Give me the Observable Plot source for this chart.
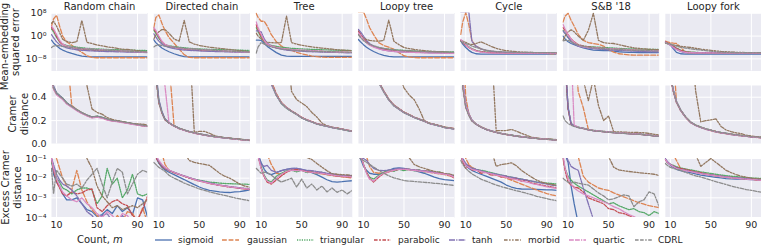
<!DOCTYPE html>
<html><head><meta charset="utf-8">
<script src="https://cdn.jsdelivr.net/npm/d3@7"></script>
<script src="https://cdn.jsdelivr.net/npm/@observablehq/plot@0.6"></script>
<style>
body{margin:0;background:#fff;}
#wrap{position:relative;width:761px;height:248px;overflow:hidden;font-family:"DejaVu Sans",sans-serif;color:#262626;}
.row{position:absolute;left:0;}
g[aria-label^="fx-axis"]{font-size:10px;}
.leg{position:absolute;top:234px;font-size:9px;line-height:12px;white-space:nowrap;}
.xl{position:absolute;top:233px;font-size:10px;line-height:13px;white-space:nowrap;}
.sw{position:absolute;top:237px;}
</style></head><body><div id="wrap"></div>
<script>
const SERIES = ["sigmoid","gaussian","triangular","parabolic","tanh","morbid","quartic","CDRL"];
const COLORS = ["#4C72B0","#DD8452","#55A868","#C44E52","#8172B3","#937860","#DA8BC3","#8C8C8C"];
const DASHES = ["none","4.8,1.8","1.2,1.2","3.6,1.5,1.8,1.5","6,1.2,1.2,1.2","3.6,1.5,1.5,1.5,1.5,1.5","4.8,1.2,4.8,1.2,1.2,1.2","3.6,1.5,3.6,1.5,1.5,1.5"];
const PANELS = ["Random chain","Directed chain","Tree","Loopy tree","Cycle","S&B '18","Loopy fork"];
const M = [5,7,10,13,16,20,25,30,35,40,45,50,55,60,65,70,75,80,85,90,95,100];
const X_TICKS = [10,50,90];
const MSE_TICKS = [1e8,1,1e-8];
const CRAMER_TICKS = [0,0.2,0.4];
const EXCESS_TICKS = [1e-1,1e-2,1e-3,1e-4];

// Row 1: mean-embedding squared error, log10 values (series order as SERIES)
const mseRandomChain = [
[-1.4,-2.4,-3.4,-4.3,-4.9,-5.5,-6.1,-6.6,-7.0,-7.2,-7.3,-7.3,-7.3,-7.3,-7.3,-7.3,-7.3,-7.3,-7.3,-7.3,-7.3,-7.3],
[3.5,6.0,7.3,3.5,0.0,-2.0,-3.2,-4.5,-5.7,-6.9,-7.5,-7.6,-7.6,-7.6,-7.6,-7.6,-7.6,-7.6,-7.6,-7.6,-7.6,-7.6],
[2.5,1.5,-0.5,-2.0,-2.8,-3.3,-3.6,-3.9,-4.1,-4.3,-4.4,-4.5,-4.6,-4.7,-4.75,-4.8,-4.85,-4.9,-4.95,-5.0,-5.0,-5.1],
[3.0,2.0,0.0,-2.0,-3.0,-3.6,-4.0,-4.3,-4.6,-4.8,-4.9,-5.0,-5.1,-5.15,-5.2,-5.25,-5.3,-5.4,-5.45,-5.5,-5.55,-5.6],
[0.5,-0.5,-2.0,-3.0,-3.6,-4.1,-4.5,-4.8,-5.0,-5.1,-5.2,-5.3,-5.35,-5.4,-5.45,-5.5,-5.55,-5.6,-5.65,-5.7,-5.75,-5.8],
[4.5,5.2,3.5,1.2,-1.1,-1.9,-2.3,-2.0,5.5,-2.2,-2.6,-3.1,-3.4,-3.8,-4.0,-4.3,-4.6,-4.7,-4.9,-5.1,-5.4,-5.6],
[3.5,2.5,0.5,-1.5,-2.8,-3.5,-3.9,-4.2,-4.4,-4.5,-4.6,-4.7,-4.8,-4.9,-5.0,-5.1,-5.2,-5.3,-5.4,-5.5,-5.6,-5.7],
[-4.0,-3.5,-3.3,-3.4,-3.6,-3.8,-4.0,-4.2,-4.4,-4.6,-4.7,-4.8,-4.9,-5.0,-5.05,-5.1,-5.2,-5.3,-5.4,-5.45,-5.5,-5.6]];
const mseDirectedChain = [
[-1.3,-2.3,-3.3,-4.2,-4.8,-5.5,-6.2,-6.8,-7.2,-7.3,-7.3,-7.3,-7.3,-7.3,-7.3,-7.3,-7.3,-7.3,-7.3,-7.3,-7.3,-7.3],
[3.0,6.5,7.4,4.5,2.0,-0.5,-2.5,-4.5,-6.5,-7.5,-7.6,-7.6,-7.6,-7.6,-7.6,-7.6,-7.6,-7.6,-7.6,-7.6,-7.6,-7.6],
[2.0,1.0,-0.8,-2.2,-3.0,-3.4,-3.7,-3.9,-4.1,-4.3,-4.4,-4.5,-4.6,-4.65,-4.7,-4.75,-4.8,-4.85,-4.9,-4.95,-5.0,-5.0],
[2.5,1.5,-0.3,-2.0,-3.0,-3.6,-4.0,-4.3,-4.6,-4.8,-4.9,-5.0,-5.1,-5.15,-5.2,-5.25,-5.3,-5.4,-5.45,-5.5,-5.55,-5.6],
[0.8,-0.3,-1.8,-2.8,-3.5,-4.0,-4.4,-4.7,-4.9,-5.0,-5.1,-5.2,-5.3,-5.35,-5.4,-5.45,-5.5,-5.55,-5.6,-5.65,-5.7,-5.75],
[-1.0,0.5,1.5,2.3,2.3,1.0,-1.0,-1.8,5.5,-2.0,-2.8,-3.3,-3.6,-3.9,-4.1,-4.3,-4.5,-4.7,-4.9,-5.1,-5.3,-5.5],
[3.0,2.0,0.0,-1.8,-2.9,-3.5,-3.9,-4.2,-4.4,-4.5,-4.6,-4.7,-4.8,-4.9,-5.0,-5.1,-5.2,-5.3,-5.4,-5.5,-5.6,-5.7],
[-3.8,-3.3,-3.1,-3.3,-3.5,-3.7,-3.9,-4.1,-4.3,-4.5,-4.6,-4.7,-4.8,-4.9,-5.0,-5.1,-5.2,-5.3,-5.35,-5.4,-5.5,-5.6]];
const mseTree = [
[-1.45,-1.45,-1.5,-2.6,-3.6,-4.6,-5.8,-6.7,-7.0,-7.1,-7.1,-7.1,-7.1,-7.1,-7.1,-7.1,-7.1,-7.1,-7.1,-7.1,-7.1,-7.1],
[8.0,6.5,5.2,5.2,3.5,0.5,-2.0,-3.5,-4.3,-5.0,-5.7,-6.2,-6.6,-7.0,-7.2,-7.4,-7.5,-7.5,-7.5,-7.5,-7.5,-7.5],
[3.0,1.5,-0.5,-2.0,-2.8,-3.3,-3.6,-3.9,-4.1,-4.3,-4.4,-4.5,-4.6,-4.65,-4.7,-4.8,-4.85,-4.9,-4.95,-5.0,-5.05,-5.1],
[4.0,2.0,0.0,-1.8,-2.9,-3.5,-4.0,-4.4,-4.7,-4.9,-5.0,-5.1,-5.2,-5.3,-5.35,-5.4,-5.5,-5.55,-5.6,-5.65,-5.7,-5.75],
[1.8,1.8,1.5,-1.0,-2.5,-3.5,-4.2,-4.6,-4.9,-5.1,-5.2,-5.3,-5.4,-5.5,-5.55,-5.6,-5.65,-5.7,-5.75,-5.8,-5.85,-5.9],
[1.0,0.0,-1.0,-1.8,-2.2,-2.3,-2.4,-2.2,7.0,-2.3,-2.8,-3.2,-3.5,-3.8,-4.0,-4.2,-4.4,-4.6,-4.8,-4.9,-5.0,-5.1],
[5.0,3.0,0.5,-1.5,-2.8,-3.5,-4.0,-4.3,-4.5,-4.7,-4.8,-4.9,-5.0,-5.1,-5.2,-5.3,-5.4,-5.5,-5.6,-5.65,-5.7,-5.75],
[-6.0,-3.8,-2.3,-2.8,-3.3,-3.8,-4.2,-4.5,-4.7,-4.9,-5.0,-5.1,-5.2,-5.3,-5.35,-5.4,-5.45,-5.5,-5.55,-5.6,-5.65,-5.7]];
const mseLoopyTree = [
[-1.2,-2.0,-3.0,-3.9,-4.6,-5.4,-6.2,-6.8,-7.1,-7.3,-7.3,-7.3,-7.3,-7.3,-7.3,-7.3,-7.3,-7.3,-7.3,-7.3,-7.3,-7.3],
[8.5,8.5,8.5,6.0,3.0,0.5,-2.3,-3.3,-3.9,-4.6,-5.8,-6.9,-7.3,-7.5,-7.6,-7.6,-7.6,-7.6,-7.6,-7.6,-7.6,-7.6],
[1.5,0.5,-1.0,-2.2,-3.0,-3.6,-4.1,-4.4,-4.6,-4.8,-4.9,-5.0,-5.1,-5.2,-5.3,-5.35,-5.4,-5.45,-5.5,-5.5,-5.55,-5.6],
[1.8,0.8,-0.8,-2.0,-2.9,-3.6,-4.2,-4.6,-4.9,-5.1,-5.2,-5.3,-5.4,-5.5,-5.55,-5.6,-5.65,-5.7,-5.75,-5.8,-5.8,-5.85],
[2.3,1.5,0.0,-1.5,-2.6,-3.5,-4.3,-4.9,-5.2,-5.4,-5.5,-5.6,-5.65,-5.7,-5.75,-5.8,-5.85,-5.9,-5.9,-5.95,-6.0,-6.0],
[0.6,0.0,-0.7,-1.2,-1.5,-1.7,-1.8,-1.5,5.6,-1.8,-3.0,-4.0,-4.4,-4.7,-4.9,-5.1,-5.3,-5.4,-5.5,-5.6,-5.7,-5.8],
[1.2,0.3,-1.2,-2.4,-3.2,-3.9,-4.5,-4.9,-5.2,-5.4,-5.5,-5.6,-5.7,-5.75,-5.8,-5.85,-5.9,-5.95,-6.0,-6.0,-6.05,-6.1],
[0.5,-0.5,-1.6,-2.3,-2.9,-3.4,-3.9,-4.3,-4.6,-4.8,-5.0,-5.1,-5.2,-5.3,-5.4,-5.45,-5.5,-5.55,-5.6,-5.65,-5.7,-5.75]];
const mseCycle = [
[-1.7,-2.8,-4.0,-5.0,-5.7,-6.2,-6.3,-6.3,-6.3,-6.3,-6.3,-6.3,-6.3,-6.3,-6.3,-6.3,-6.3,-6.3,-6.3,-6.3,-6.3,-6.3],
[0.6,5.0,8.2,4.0,-1.5,-3.5,-4.5,-5.0,-5.4,-5.6,-5.8,-5.9,-6.0,-6.0,-6.0,-6.0,-6.1,-6.1,-6.1,-6.1,-6.2,-6.2],
[-1.6,-2.2,-3.0,-3.8,-4.4,-5.0,-5.4,-5.6,-5.7,-5.75,-5.8,-5.8,-5.8,-5.8,-5.8,-5.8,-5.8,-5.8,-5.8,-5.8,-5.8,-5.8],
[-1.5,-2.3,-3.2,-4.0,-4.6,-5.1,-5.5,-5.7,-5.8,-5.9,-5.9,-5.95,-6.0,-6.0,-6.0,-6.0,-6.0,-6.0,-6.0,-6.0,-6.0,-6.0],
[8.5,8.5,8.5,8.5,-1.8,-3.5,-4.5,-5.0,-5.3,-5.5,-5.6,-5.7,-5.75,-5.8,-5.8,-5.85,-5.85,-5.9,-5.9,-5.9,-5.9,-5.9],
[-1.5,-1.8,-2.2,-2.8,-3.0,-2.6,-2.0,-2.8,-3.6,-4.3,-4.8,-5.1,-5.3,-5.5,-5.6,-5.7,-5.75,-5.8,-5.8,-5.85,-5.85,-5.9],
[-1.2,-2.0,-3.0,-3.9,-4.6,-5.2,-5.6,-5.8,-5.9,-6.0,-6.0,-6.0,-6.0,-6.0,-6.0,-6.0,-6.0,-6.0,-6.0,-6.0,-6.0,-6.0],
[-1.8,-2.2,-2.6,-3.0,-3.5,-4.0,-4.5,-4.9,-5.2,-5.4,-5.5,-5.6,-5.65,-5.7,-5.7,-5.75,-5.75,-5.8,-5.8,-5.8,-5.8,-5.8]];
const mseSB18 = [
[0.0,-1.0,-2.0,-2.6,-3.0,-3.5,-4.1,-4.6,-4.9,-5.0,-5.1,-5.1,-5.3,-5.5,-5.6,-5.7,-5.75,-5.8,-5.8,-5.8,-5.8,-5.8],
[4.9,7.0,8.0,5.5,3.5,0.6,-1.5,-2.3,-2.6,-2.9,-3.5,-4.8,-5.6,-6.2,-6.4,-6.6,-6.7,-6.7,-6.7,-6.7,-6.7,-6.7],
[2.0,1.0,-0.5,-1.8,-2.6,-3.2,-3.5,-3.7,-3.8,-3.9,-4.0,-4.1,-4.2,-4.3,-4.4,-4.5,-4.5,-4.6,-4.6,-4.7,-4.7,-4.7],
[3.0,2.0,0.5,-1.0,-2.0,-3.0,-3.5,-3.8,-4.0,-4.2,-4.3,-4.4,-4.5,-4.6,-4.7,-4.8,-4.9,-5.0,-5.0,-5.1,-5.1,-5.2],
[1.8,1.0,-0.5,-1.8,-2.8,-3.5,-3.9,-4.2,-4.4,-4.6,-4.7,-4.8,-4.9,-5.0,-5.1,-5.2,-5.3,-5.4,-5.4,-5.5,-5.5,-5.6],
[-1.5,0.0,1.5,2.2,1.5,0.0,-1.5,2.0,8.0,-1.5,-2.3,-2.5,-2.6,-3.0,-3.4,-3.8,-4.1,-4.3,-4.5,-4.6,-4.7,-4.8],
[4.1,2.5,0.5,-1.0,-2.2,-3.3,-3.8,-4.0,-4.1,-4.2,-4.3,-4.4,-4.5,-4.6,-4.7,-4.8,-4.9,-5.0,-5.0,-5.1,-5.1,-5.1],
[-1.7,-1.5,-1.5,-2.0,-2.6,-3.2,-3.6,-3.9,-4.1,-4.3,-4.4,-4.5,-4.6,-4.7,-4.8,-4.9,-5.0,-5.0,-5.1,-5.1,-5.2,-5.2]];
const mseLoopyFork = [
[-2.2,-2.5,-3.2,-4.5,-5.7,-6.2,-6.3,-6.3,-6.3,-6.3,-6.3,-6.3,-6.3,-6.3,-6.3,-6.3,-6.3,-6.3,-6.3,-6.3,-6.3,-6.3],
[-1.8,-2.0,-2.3,-2.5,-2.6,-3.8,-5.8,-5.9,-6.0,-6.0,-6.0,-6.0,-6.0,-6.0,-6.0,-6.0,-6.0,-6.0,-6.0,-6.0,-6.0,-6.0],
[-2.3,-2.6,-3.0,-3.6,-4.2,-4.9,-5.4,-5.6,-5.7,-5.8,-5.8,-5.8,-5.8,-5.8,-5.8,-5.8,-5.8,-5.8,-5.8,-5.8,-5.8,-5.8],
[-2.0,-2.4,-2.9,-3.6,-4.3,-5.0,-5.5,-5.7,-5.8,-5.8,-5.8,-5.8,-5.8,-5.8,-5.8,-5.8,-5.8,-5.8,-5.8,-5.8,-5.8,-5.8],
[-2.1,-2.5,-3.1,-3.9,-4.7,-5.4,-5.8,-5.9,-5.9,-5.9,-5.9,-5.9,-5.9,-5.9,-5.9,-5.9,-5.9,-5.9,-5.9,-5.9,-5.9,-5.9],
[-2.5,-2.6,-2.8,-3.1,-3.3,-3.6,-3.8,-4.0,-4.3,-4.6,-4.8,-5.0,-5.2,-5.4,-5.5,-5.6,-5.7,-5.7,-5.8,-5.8,-5.8,-5.8],
[-2.2,-2.6,-3.2,-4.0,-4.7,-5.3,-5.7,-5.8,-5.9,-5.9,-5.9,-5.9,-5.9,-5.9,-5.9,-5.9,-5.9,-5.9,-5.9,-5.9,-5.9,-5.9],
[-2.4,-2.6,-2.9,-3.2,-3.5,-3.9,-4.2,-4.5,-4.7,-4.9,-5.1,-5.3,-5.5,-5.6,-5.7,-5.7,-5.8,-5.8,-5.8,-5.8,-5.8,-5.8]];

// Row 2: Cramer distance
const cramerRandomChain = [
[0.62,0.48,0.43,0.41,0.39,0.35,0.32,0.29,0.265,0.245,0.228,0.235,0.225,0.21,0.2,0.195,0.188,0.18,0.172,0.165,0.158,0.152],
[0.9,0.9,0.9,0.9,0.9,0.8,0.33,0.295,0.268,0.247,0.23,0.236,0.226,0.211,0.201,0.196,0.189,0.181,0.173,0.166,0.159,0.153],
[0.63,0.49,0.44,0.415,0.393,0.353,0.323,0.293,0.268,0.248,0.231,0.238,0.228,0.213,0.203,0.198,0.19,0.183,0.175,0.168,0.161,0.155],
[0.6,0.47,0.425,0.405,0.386,0.347,0.318,0.288,0.263,0.243,0.226,0.233,0.223,0.208,0.198,0.193,0.186,0.178,0.17,0.163,0.156,0.15],
[0.64,0.5,0.435,0.412,0.391,0.351,0.321,0.291,0.266,0.246,0.229,0.236,0.226,0.211,0.201,0.196,0.189,0.181,0.173,0.166,0.159,0.153],
[0.9,0.9,0.9,0.9,0.9,0.9,0.9,0.9,0.9,0.5,0.3,0.27,0.255,0.225,0.21,0.2,0.192,0.182,0.176,0.172,0.17,0.16],
[0.61,0.47,0.42,0.4,0.38,0.342,0.313,0.284,0.26,0.24,0.223,0.23,0.22,0.205,0.195,0.19,0.183,0.176,0.168,0.161,0.155,0.149],
[0.6,0.48,0.43,0.41,0.39,0.35,0.32,0.292,0.267,0.247,0.23,0.237,0.227,0.212,0.202,0.197,0.19,0.182,0.174,0.167,0.16,0.154]];
const cramerDirectedChain = [
[0.8,0.6,0.36,0.27,0.21,0.18,0.155,0.133,0.118,0.105,0.095,0.085,0.077,0.07,0.063,0.058,0.053,0.048,0.043,0.039,0.035,0.031],
[0.9,0.9,0.9,0.9,0.9,0.7,0.157,0.135,0.12,0.106,0.096,0.086,0.078,0.071,0.064,0.059,0.054,0.049,0.044,0.04,0.036,0.032],
[0.82,0.62,0.37,0.275,0.215,0.183,0.157,0.135,0.12,0.107,0.097,0.087,0.079,0.071,0.064,0.059,0.054,0.049,0.044,0.04,0.036,0.032],
[0.78,0.58,0.35,0.265,0.207,0.178,0.153,0.132,0.117,0.104,0.094,0.084,0.076,0.069,0.062,0.057,0.052,0.047,0.042,0.038,0.034,0.03],
[0.85,0.65,0.38,0.28,0.215,0.182,0.156,0.134,0.119,0.106,0.096,0.086,0.078,0.071,0.064,0.058,0.053,0.048,0.043,0.039,0.035,0.031],
[0.9,0.9,0.9,0.9,0.9,0.9,0.9,0.9,0.9,0.9,0.1,0.108,0.108,0.092,0.072,0.06,0.055,0.05,0.045,0.041,0.037,0.033],
[0.9,0.9,0.9,0.9,0.5,0.18,0.154,0.132,0.117,0.104,0.094,0.084,0.076,0.069,0.062,0.057,0.052,0.047,0.042,0.038,0.034,0.03],
[0.79,0.59,0.355,0.268,0.21,0.18,0.155,0.134,0.119,0.106,0.096,0.086,0.078,0.07,0.064,0.058,0.053,0.048,0.043,0.039,0.035,0.031]];
const cramerTree = [
[0.9,0.85,0.75,0.68,0.62,0.52,0.42,0.35,0.31,0.28,0.255,0.225,0.205,0.19,0.172,0.162,0.152,0.142,0.134,0.126,0.117,0.109],
[0.9,0.9,0.8,0.72,0.65,0.54,0.43,0.355,0.313,0.282,0.257,0.227,0.207,0.192,0.174,0.163,0.153,0.143,0.135,0.127,0.118,0.11],
[0.9,0.85,0.75,0.68,0.62,0.52,0.415,0.345,0.305,0.277,0.252,0.222,0.203,0.188,0.17,0.16,0.15,0.14,0.132,0.124,0.115,0.107],
[0.9,0.86,0.76,0.69,0.63,0.53,0.425,0.352,0.312,0.282,0.257,0.227,0.207,0.192,0.174,0.164,0.154,0.144,0.136,0.128,0.119,0.111],
[0.9,0.84,0.74,0.67,0.61,0.51,0.415,0.348,0.308,0.279,0.254,0.224,0.204,0.189,0.171,0.161,0.151,0.141,0.133,0.125,0.116,0.108],
[0.9,0.9,0.9,0.9,0.9,0.9,0.9,0.9,0.9,0.45,0.38,0.35,0.32,0.27,0.23,0.18,0.155,0.144,0.136,0.128,0.119,0.111],
[0.9,0.85,0.75,0.68,0.62,0.52,0.42,0.35,0.31,0.28,0.255,0.226,0.206,0.19,0.173,0.162,0.152,0.142,0.134,0.126,0.118,0.11],
[0.9,0.85,0.75,0.68,0.62,0.52,0.418,0.349,0.309,0.28,0.255,0.225,0.205,0.19,0.172,0.162,0.152,0.142,0.134,0.126,0.117,0.109]];
const cramerLoopyTree = [
[0.95,0.9,0.85,0.78,0.72,0.64,0.53,0.45,0.38,0.33,0.3,0.27,0.25,0.228,0.212,0.196,0.176,0.166,0.155,0.142,0.135,0.129],
[0.95,0.9,0.85,0.78,0.72,0.64,0.535,0.455,0.385,0.334,0.303,0.273,0.252,0.23,0.214,0.198,0.178,0.168,0.157,0.144,0.137,0.131],
[0.95,0.9,0.85,0.78,0.72,0.64,0.525,0.445,0.375,0.326,0.297,0.267,0.247,0.226,0.21,0.194,0.175,0.164,0.153,0.141,0.134,0.127],
[0.95,0.9,0.85,0.78,0.72,0.64,0.53,0.452,0.382,0.332,0.302,0.272,0.252,0.23,0.213,0.197,0.177,0.167,0.156,0.143,0.136,0.13],
[0.95,0.9,0.85,0.78,0.72,0.64,0.528,0.448,0.378,0.328,0.298,0.268,0.248,0.227,0.211,0.195,0.175,0.165,0.154,0.141,0.134,0.128],
[0.95,0.9,0.9,0.9,0.9,0.9,0.9,0.9,0.9,0.9,0.6,0.48,0.42,0.38,0.3,0.2,0.178,0.168,0.157,0.144,0.137,0.131],
[0.95,0.9,0.85,0.78,0.72,0.64,0.53,0.45,0.38,0.33,0.3,0.27,0.25,0.228,0.212,0.196,0.176,0.166,0.155,0.142,0.135,0.129],
[0.95,0.9,0.85,0.78,0.72,0.64,0.532,0.451,0.381,0.331,0.301,0.271,0.251,0.229,0.213,0.197,0.177,0.167,0.156,0.143,0.136,0.13]];
const cramerCycle = [
[0.75,0.5,0.32,0.25,0.2,0.17,0.145,0.125,0.112,0.1,0.09,0.082,0.075,0.068,0.062,0.057,0.052,0.048,0.044,0.041,0.038,0.035],
[0.9,0.9,0.4,0.26,0.205,0.172,0.147,0.127,0.113,0.101,0.091,0.083,0.076,0.069,0.063,0.058,0.053,0.049,0.045,0.042,0.039,0.036],
[0.76,0.51,0.33,0.255,0.203,0.172,0.146,0.126,0.113,0.101,0.091,0.083,0.076,0.069,0.063,0.058,0.053,0.049,0.045,0.042,0.039,0.036],
[0.74,0.49,0.315,0.248,0.198,0.169,0.144,0.124,0.111,0.099,0.089,0.081,0.074,0.067,0.061,0.056,0.051,0.047,0.043,0.04,0.037,0.034],
[0.8,0.55,0.34,0.26,0.205,0.171,0.145,0.125,0.112,0.1,0.09,0.082,0.075,0.068,0.062,0.057,0.052,0.048,0.044,0.041,0.038,0.035],
[0.9,0.9,0.9,0.9,0.9,0.9,0.9,0.9,0.9,0.115,0.115,0.115,0.125,0.11,0.09,0.075,0.058,0.05,0.046,0.043,0.04,0.037],
[0.78,0.52,0.33,0.252,0.2,0.17,0.145,0.125,0.112,0.1,0.09,0.082,0.075,0.068,0.062,0.057,0.052,0.048,0.044,0.041,0.038,0.035],
[0.73,0.49,0.31,0.245,0.197,0.168,0.144,0.124,0.111,0.099,0.089,0.081,0.074,0.067,0.061,0.056,0.051,0.047,0.043,0.04,0.037,0.034]];
const cramerSB18 = [
[0.9,0.7,0.3,0.17,0.155,0.143,0.133,0.122,0.115,0.11,0.106,0.101,0.098,0.095,0.092,0.089,0.087,0.084,0.08,0.075,0.07,0.065],
[0.9,0.9,0.9,0.9,0.9,0.45,0.31,0.125,0.117,0.111,0.107,0.102,0.099,0.096,0.093,0.09,0.088,0.085,0.081,0.076,0.071,0.066],
[0.9,0.7,0.31,0.175,0.158,0.145,0.135,0.124,0.117,0.112,0.108,0.103,0.1,0.097,0.094,0.091,0.089,0.086,0.082,0.077,0.072,0.067],
[0.9,0.7,0.3,0.168,0.153,0.142,0.132,0.121,0.114,0.109,0.105,0.1,0.097,0.094,0.091,0.088,0.086,0.083,0.079,0.074,0.069,0.064],
[0.9,0.75,0.32,0.172,0.155,0.143,0.133,0.122,0.115,0.11,0.106,0.101,0.098,0.095,0.092,0.089,0.087,0.084,0.08,0.075,0.07,0.065],
[0.9,0.9,0.9,0.9,0.9,0.9,0.55,0.37,0.56,0.33,0.2,0.24,0.105,0.103,0.102,0.1,0.1,0.098,0.096,0.09,0.083,0.078],
[0.9,0.9,0.9,0.8,0.16,0.144,0.134,0.123,0.116,0.111,0.107,0.102,0.099,0.096,0.093,0.09,0.088,0.085,0.081,0.076,0.071,0.066],
[0.24,0.2,0.175,0.16,0.15,0.141,0.132,0.121,0.114,0.109,0.105,0.1,0.097,0.094,0.091,0.088,0.086,0.083,0.079,0.074,0.069,0.064]];
const cramerLoopyFork = [
[0.9,0.75,0.58,0.45,0.36,0.29,0.23,0.185,0.16,0.143,0.128,0.117,0.105,0.097,0.09,0.083,0.077,0.072,0.067,0.062,0.058,0.055],
[0.9,0.9,0.9,0.75,0.36,0.292,0.232,0.187,0.162,0.145,0.13,0.119,0.107,0.099,0.092,0.085,0.079,0.074,0.069,0.064,0.06,0.057],
[0.9,0.76,0.59,0.455,0.365,0.293,0.232,0.187,0.162,0.145,0.13,0.118,0.106,0.098,0.091,0.084,0.078,0.073,0.068,0.063,0.059,0.056],
[0.9,0.74,0.57,0.445,0.355,0.287,0.228,0.183,0.158,0.141,0.126,0.115,0.103,0.095,0.088,0.081,0.075,0.07,0.065,0.06,0.056,0.053],
[0.9,0.78,0.6,0.46,0.365,0.292,0.231,0.186,0.16,0.143,0.128,0.117,0.105,0.097,0.09,0.083,0.077,0.072,0.067,0.062,0.058,0.055],
[0.9,0.9,0.9,0.9,0.9,0.9,0.9,0.9,0.45,0.19,0.2,0.207,0.214,0.15,0.12,0.105,0.095,0.088,0.075,0.068,0.062,0.058],
[0.9,0.75,0.58,0.45,0.36,0.29,0.229,0.184,0.159,0.142,0.127,0.116,0.104,0.096,0.089,0.082,0.076,0.071,0.066,0.061,0.057,0.054],
[0.9,0.75,0.58,0.45,0.36,0.291,0.231,0.186,0.161,0.144,0.129,0.118,0.106,0.098,0.091,0.084,0.078,0.073,0.068,0.063,0.059,0.056]];

// Row 3: excess Cramer distance, log10 values
const excessRandomChain = [
[-1.0,-1.8,-2.2,-2.4,-2.8,-3.1,-3.1,-3.0,-3.3,-3.6,-3.7,-3.95,-3.85,-3.6,-3.8,-3.4,-3.7,-3.5,-3.85,-3.0,-3.1,-4.0],
[-0.8,-0.9,-1.0,-1.5,-2.0,-2.4,-2.6,-1.6,-2.6,-3.2,-3.6,-3.9,-4.2,-4.1,-4.3,-3.9,-4.2,-3.7,-3.8,-4.2,-3.5,-4.3],
[-1.2,-1.5,-2.0,-2.2,-2.5,-2.6,-2.8,-2.6,-2.5,-2.5,-2.6,-3.3,-2.9,-1.5,-2.3,-2.0,-3.0,-2.6,-1.8,-2.8,-2.9,-2.8],
[-1.0,-1.6,-2.2,-2.5,-2.8,-2.9,-2.7,-2.8,-2.75,-2.6,-2.55,-3.5,-3.7,-3.4,-3.2,-3.1,-3.3,-3.4,-3.9,-4.1,-3.6,-2.9],
[-1.0,-1.3,-1.8,-2.1,-2.3,-2.4,-2.6,-2.9,-3.3,-3.7,-3.9,-4.2,-3.9,-3.8,-4.2,-4.3,-3.9,-4.2,-4.3,-4.0,-4.3,-4.1],
[-0.5,-0.5,-0.5,-0.5,-0.5,-0.5,-0.5,-0.5,-0.5,-1.0,-1.5,-2.4,-2.9,-3.2,-3.5,-3.4,-3.6,-3.5,-3.4,-3.5,-3.3,-3.1],
[-1.0,-1.5,-2.0,-2.4,-2.7,-2.9,-3.1,-3.2,-3.0,-3.3,-3.5,-3.8,-4.0,-3.7,-3.9,-4.2,-3.8,-3.9,-4.3,-4.1,-4.2,-4.3],
[-1.5,-2.8,-1.6,-1.8,-2.0,-2.3,-2.4,-2.3,-2.5,-2.1,-1.8,-1.5,-2.3,-3.0,-2.2,-1.5,-1.7,-2.8,-2.3,-1.8,-1.6,-1.7]];
const excessDirectedChain = [
[-0.6,-0.9,-1.25,-1.45,-1.58,-1.7,-1.82,-1.95,-2.07,-2.2,-2.33,-2.45,-2.55,-2.62,-2.66,-2.7,-2.72,-2.73,-2.7,-2.68,-2.64,-2.6],
[-0.5,-0.5,-0.5,-0.7,-1.3,-1.6,-1.72,-1.8,-1.9,-1.98,-2.06,-2.13,-2.2,-2.26,-2.31,-2.36,-2.4,-2.44,-2.47,-2.5,-2.53,-2.58],
[-0.6,-0.9,-1.2,-1.4,-1.5,-1.6,-1.7,-1.8,-1.9,-1.98,-2.05,-2.1,-2.15,-2.2,-2.22,-2.25,-2.27,-2.28,-2.29,-2.3,-2.3,-2.32],
[-0.6,-0.95,-1.2,-1.4,-1.52,-1.62,-1.72,-1.82,-1.9,-2.0,-2.08,-2.15,-2.2,-2.27,-2.32,-2.37,-2.41,-2.45,-2.48,-2.52,-2.55,-2.58],
[-0.5,-0.85,-1.15,-1.35,-1.48,-1.6,-1.7,-1.8,-1.88,-1.97,-2.05,-2.12,-2.18,-2.24,-2.3,-2.35,-2.39,-2.43,-2.46,-2.49,-2.52,-2.55],
[-0.5,-0.5,-0.5,-0.5,-0.5,-0.5,-0.5,-0.5,-0.7,-1.1,-1.2,-1.25,-1.3,-1.35,-1.55,-1.75,-1.9,-2.0,-2.15,-2.3,-2.4,-2.47],
[-0.5,-0.8,-1.1,-1.3,-1.45,-1.58,-1.7,-1.8,-1.9,-1.98,-2.06,-2.14,-2.2,-2.26,-2.32,-2.36,-2.4,-2.44,-2.47,-2.5,-2.53,-2.56],
[-1.2,-1.3,-1.45,-1.55,-1.65,-1.85,-2.0,-2.12,-2.25,-2.35,-2.45,-2.55,-2.62,-2.7,-2.76,-2.82,-2.88,-2.94,-3.0,-3.05,-3.1,-3.15]];
const excessTree = [
[-0.5,-0.8,-1.2,-1.55,-1.75,-1.82,-1.72,-1.62,-1.55,-1.5,-1.5,-1.55,-1.62,-1.72,-1.82,-1.95,-2.08,-2.18,-2.2,-2.18,-2.15,-2.13],
[-0.5,-0.5,-0.5,-0.6,-0.8,-1.3,-1.75,-1.8,-1.65,-1.6,-1.58,-1.6,-1.65,-1.7,-1.75,-1.78,-1.82,-1.86,-1.9,-1.93,-1.96,-2.0],
[-0.5,-0.9,-1.4,-1.85,-2.1,-2.2,-1.9,-1.75,-1.62,-1.6,-1.68,-1.6,-1.72,-1.65,-1.78,-1.7,-1.82,-1.78,-1.88,-1.85,-1.92,-1.9],
[-0.5,-0.9,-1.5,-1.95,-2.2,-2.3,-2.1,-1.88,-1.7,-1.58,-1.55,-1.6,-1.65,-1.7,-1.72,-1.75,-1.8,-1.85,-1.9,-1.92,-1.93,-1.95],
[-0.5,-0.8,-1.3,-1.4,-1.35,-1.6,-1.7,-1.62,-1.55,-1.52,-1.5,-1.55,-1.6,-1.62,-1.66,-1.7,-1.75,-1.78,-1.82,-1.85,-1.86,-1.88],
[-0.5,-0.5,-0.5,-0.5,-0.5,-0.5,-0.5,-0.5,-0.5,-0.5,-0.5,-0.5,-0.95,-1.05,-1.25,-1.44,-1.62,-1.77,-1.8,-1.82,-1.84,-1.86],
[-0.5,-0.9,-1.5,-1.9,-2.15,-2.25,-2.0,-1.8,-1.65,-1.6,-1.62,-1.62,-1.68,-1.7,-1.74,-1.76,-1.8,-1.84,-1.88,-1.9,-1.92,-1.94],
[-1.5,-1.6,-1.75,-1.7,-1.72,-1.85,-2.05,-2.2,-2.1,-2.0,-2.45,-2.05,-2.5,-2.3,-2.6,-2.4,-2.7,-2.5,-2.72,-2.6,-2.8,-2.62]];
const excessLoopyTree = [
[-0.7,-1.0,-1.4,-1.6,-1.75,-1.8,-1.8,-1.75,-1.6,-1.5,-1.48,-1.5,-1.55,-1.6,-1.68,-1.75,-1.85,-1.95,-2.02,-2.07,-2.1,-2.13],
[-0.5,-0.5,-0.5,-0.9,-1.4,-1.7,-1.75,-1.7,-1.62,-1.58,-1.55,-1.55,-1.57,-1.6,-1.63,-1.66,-1.7,-1.74,-1.78,-1.82,-1.88,-1.95],
[-0.5,-0.8,-1.3,-1.7,-1.95,-2.05,-1.85,-1.7,-1.6,-1.65,-1.55,-1.62,-1.55,-1.63,-1.58,-1.68,-1.62,-1.72,-1.68,-1.78,-1.8,-1.9],
[-0.5,-0.8,-1.3,-1.7,-2.0,-2.2,-1.95,-1.77,-1.68,-1.6,-1.55,-1.52,-1.55,-1.58,-1.6,-1.63,-1.66,-1.7,-1.73,-1.77,-1.85,-2.0],
[-0.8,-1.0,-1.0,-1.1,-1.3,-1.5,-1.6,-1.62,-1.58,-1.55,-1.5,-1.52,-1.55,-1.58,-1.6,-1.63,-1.66,-1.7,-1.74,-1.78,-1.82,-1.88],
[-0.5,-0.5,-0.5,-0.5,-0.5,-0.5,-0.5,-0.5,-0.5,-0.5,-0.5,-0.5,-0.95,-1.3,-1.42,-1.5,-1.58,-1.65,-1.7,-1.76,-1.8,-1.86],
[-0.5,-0.8,-1.3,-1.75,-2.05,-2.15,-1.9,-1.75,-1.65,-1.6,-1.55,-1.55,-1.58,-1.6,-1.63,-1.66,-1.7,-1.73,-1.77,-1.8,-1.85,-1.95],
[-0.9,-1.0,-1.1,-1.2,-1.3,-1.44,-1.6,-1.75,-1.88,-1.98,-2.05,-2.12,-2.15,-2.17,-2.19,-2.21,-2.23,-2.26,-2.28,-2.31,-2.34,-2.37]];
const excessCycle = [
[-0.8,-1.1,-1.35,-1.5,-1.6,-1.7,-1.8,-1.9,-2.0,-2.1,-2.2,-2.35,-2.45,-2.52,-2.55,-2.56,-2.56,-2.57,-2.58,-2.6,-2.6,-2.62],
[-0.5,-0.6,-1.0,-1.3,-1.45,-1.55,-1.62,-1.7,-1.78,-1.85,-1.92,-2.0,-2.1,-2.2,-2.3,-2.4,-2.5,-2.6,-2.7,-2.78,-2.85,-2.9],
[-0.8,-1.1,-1.3,-1.4,-1.5,-1.55,-1.6,-1.65,-1.72,-1.78,-1.84,-1.9,-1.95,-2.0,-2.05,-2.1,-2.15,-2.2,-2.22,-2.25,-2.27,-2.3],
[-0.8,-1.2,-1.5,-1.35,-1.6,-1.55,-1.75,-1.7,-1.85,-1.82,-1.95,-1.9,-2.05,-2.0,-2.15,-2.1,-2.25,-2.3,-2.35,-2.4,-2.45,-2.5],
[-0.8,-1.0,-1.25,-1.4,-1.48,-1.55,-1.62,-1.7,-1.75,-1.8,-1.85,-1.9,-1.95,-2.0,-2.05,-2.1,-2.15,-2.2,-2.25,-2.3,-2.35,-2.4],
[-0.5,-0.5,-0.5,-0.5,-0.5,-0.5,-0.5,-0.5,-0.5,-1.4,-1.31,-1.27,-1.22,-1.37,-1.6,-1.78,-1.95,-2.1,-2.2,-2.27,-2.32,-2.37],
[-0.8,-1.1,-1.35,-1.45,-1.55,-1.6,-1.66,-1.72,-1.78,-1.84,-1.9,-1.96,-2.02,-2.08,-2.14,-2.2,-2.26,-2.32,-2.38,-2.44,-2.48,-2.52],
[-1.1,-1.3,-1.5,-1.65,-1.78,-1.9,-2.05,-2.15,-2.25,-2.35,-2.43,-2.5,-2.57,-2.64,-2.7,-2.77,-2.84,-2.92,-2.98,-3.04,-3.1,-3.15]];
const excessSB18 = [
[-0.5,-0.8,-1.2,-2.4,-3.3,-4.3,-5.0,-5.0,-5.0,-5.0,-5.0,-5.0,-5.0,-5.0,-5.0,-5.0,-5.0,-5.0,-5.0,-5.0,-5.0,-5.0],
[-0.5,-0.5,-0.5,-0.5,-0.5,-0.9,-1.9,-2.2,-2.35,-2.5,-2.57,-2.62,-2.75,-2.85,-2.95,-3.05,-3.15,-3.25,-3.32,-3.4,-3.45,-3.5],
[-1.0,-1.5,-1.9,-2.1,-2.25,-2.4,-2.55,-2.7,-2.85,-3.0,-3.15,-3.3,-3.25,-3.4,-3.5,-3.6,-3.55,-3.7,-3.75,-3.9,-3.7,-3.8],
[-1.0,-1.6,-2.2,-2.35,-2.45,-2.5,-2.7,-3.0,-3.1,-3.2,-3.3,-3.55,-3.6,-3.75,-3.8,-3.9,-4.05,-4.2,-4.3,-4.4,-4.5,-4.6],
[-0.5,-0.7,-1.1,-1.4,-1.5,-1.6,-2.5,-3.3,-4.1,-4.8,-5.0,-5.0,-5.0,-5.0,-5.0,-5.0,-5.0,-5.0,-5.0,-5.0,-5.0,-5.0],
[-0.5,-0.5,-0.5,-0.5,-0.5,-0.5,-0.5,-0.5,-0.5,-0.5,-0.5,-0.9,-1.44,-1.58,-1.62,-1.66,-1.69,-1.72,-1.75,-1.77,-1.8,-1.86],
[-0.8,-1.5,-2.0,-2.3,-2.5,-2.65,-2.8,-2.9,-3.0,-3.1,-3.2,-3.3,-3.45,-3.55,-3.7,-3.85,-3.95,-4.1,-4.3,-4.4,-4.5,-4.6],
[-2.0,-2.1,-2.2,-2.25,-2.2,-2.25,-2.3,-2.35,-2.55,-2.75,-2.9,-3.1,-3.05,-2.95,-2.85,-2.9,-3.45,-3.2,-3.1,-2.7,-2.8,-3.45]];
const excessLoopyFork = [
[-1.05,-1.2,-1.35,-1.45,-1.55,-1.62,-1.68,-1.72,-1.78,-1.84,-1.88,-1.92,-1.96,-1.99,-2.02,-2.04,-2.05,-2.05,-2.06,-2.07,-2.08,-2.1],
[-0.5,-0.5,-0.6,-0.8,-1.1,-1.5,-1.58,-1.64,-1.7,-1.75,-1.8,-1.84,-1.88,-1.92,-1.95,-1.98,-2.0,-2.02,-2.04,-2.06,-2.08,-2.1],
[-1.05,-1.2,-1.3,-1.35,-1.42,-1.48,-1.53,-1.58,-1.63,-1.68,-1.72,-1.76,-1.8,-1.84,-1.87,-1.9,-1.92,-1.95,-1.97,-1.99,-2.0,-2.02],
[-1.05,-1.2,-1.3,-1.38,-1.45,-1.5,-1.55,-1.62,-1.68,-1.72,-1.78,-1.83,-1.87,-1.9,-1.93,-1.96,-1.99,-2.01,-2.03,-2.05,-2.08,-2.1],
[-1.0,-1.15,-1.3,-1.4,-1.48,-1.55,-1.6,-1.66,-1.71,-1.76,-1.8,-1.84,-1.87,-1.9,-1.93,-1.96,-1.98,-2.0,-2.02,-2.04,-2.06,-2.08],
[-0.5,-0.5,-0.5,-0.5,-0.5,-0.5,-0.5,-0.5,-0.8,-1.4,-1.2,-1.0,-1.2,-1.4,-1.6,-1.72,-1.82,-1.9,-1.95,-2.0,-2.02,-2.05],
[-1.05,-1.2,-1.32,-1.42,-1.5,-1.56,-1.62,-1.67,-1.72,-1.77,-1.81,-1.85,-1.88,-1.92,-1.95,-1.98,-2.0,-2.03,-2.05,-2.07,-2.09,-2.11],
[-1.25,-1.35,-1.45,-1.5,-1.55,-1.6,-1.7,-1.8,-1.88,-1.94,-2.02,-2.1,-2.18,-2.25,-2.32,-2.4,-2.46,-2.52,-2.58,-2.62,-2.67,-2.71]];

const MSE = [mseRandomChain, mseDirectedChain, mseTree, mseLoopyTree, mseCycle, mseSB18, mseLoopyFork];
const CRAMER = [cramerRandomChain, cramerDirectedChain, cramerTree, cramerLoopyTree, cramerCycle, cramerSB18, cramerLoopyFork];
const EXCESS = [excessRandomChain, excessDirectedChain, excessTree, excessLoopyTree, excessCycle, excessSB18, excessLoopyFork];

function build(rows, isLog) {
  const out = [];
  rows.forEach((panelArr, pi) => panelArr.forEach((arr, si) => arr.forEach((v, i) =>
    out.push({panel: PANELS[pi], series: SERIES[si], m: M[i], v: isLog ? Math.pow(10, v) : v}))));
  return out;
}
const SUP = {"-":"\u207B","0":"\u2070","1":"\u00B9","2":"\u00B2","3":"\u00B3","4":"\u2074","5":"\u2075","6":"\u2076","7":"\u2077","8":"\u2078","9":"\u2079"};
const powFmt = d => "10" + String(Math.round(Math.log10(d))).split("").map(c => SUP[c]).join("");

function rowPlot({data, y, yTicks, height, marginTop, marginBottom, fxAxis, xAxis}) {
  return Plot.plot({
    width: 761, height, marginLeft: 51, marginRight: 0, marginTop, marginBottom,
    style: {fontFamily: "DejaVu Sans", fontSize: "9.5px", color: "#262626", background: "transparent", overflow: "visible"},
    fx: {domain: PANELS, paddingInner: 0.06, paddingOuter: 0, round: false, axis: fxAxis ? "top" : null, label: null, tickSize: 0, tickPadding: 3},
    x: {domain: [5, 100], axis: xAxis ? "bottom" : null, ticks: X_TICKS, tickSize: 0, tickPadding: 4, label: null, tickFormat: d => String(d)},
    y: {...y, ticks: yTicks, tickSize: 0, tickPadding: 5, label: null},
    marks: [
      Plot.frame({fill: "#EAEAF2", stroke: null}),
      Plot.ruleX(X_TICKS, {stroke: "#fff", strokeWidth: 1}),
      Plot.ruleY(yTicks, {stroke: "#fff", strokeWidth: 1}),
      ...SERIES.map((s, k) => Plot.line(data.filter(d => d.series === s), {
        x: "m", y: "v", fx: "panel", stroke: COLORS[k], strokeWidth: 1.3,
        strokeDasharray: DASHES[k], clip: true
      }))
    ]
  });
}

const wrap = document.getElementById("wrap");
function place(el, top) { el.classList.add("row"); el.style.top = top + "px"; wrap.appendChild(el); }

place(rowPlot({data: build(MSE, true), y: {type: "log", domain: [Math.pow(10, -12.25), Math.pow(10, 8.1)], tickFormat: powFmt},
  yTicks: MSE_TICKS, height: 72, marginTop: 12.5, marginBottom: 1.5, fxAxis: true, xAxis: false}), 0);
place(rowPlot({data: build(CRAMER, false), y: {domain: [0, 0.5], tickFormat: d => d.toFixed(1)},
  yTicks: CRAMER_TICKS, height: 66, marginTop: 5, marginBottom: 2.5, fxAxis: false, xAxis: false}), 80);
place(rowPlot({data: build(EXCESS, true), y: {type: "log", domain: [1e-4, 1e-1], tickFormat: powFmt},
  yTicks: EXCESS_TICKS, height: 85, marginTop: 8, marginBottom: 18, fxAxis: false, xAxis: true}), 150);

// y-axis titles
const NS = "http://www.w3.org/2000/svg";
const ov = document.createElementNS(NS, "svg");
ov.setAttribute("width", 761); ov.setAttribute("height", 248);
ov.style.cssText = "position:absolute;left:0;top:0;pointer-events:none";
const YLABELS = [["Mean-embedding", 7.5, 46.5], ["squared error", 19, 42], ["Cramer", 16, 114], ["distance", 27.5, 114], ["Excess Cramer", 9, 187.5], ["distance", 20.5, 187.5]];
YLABELS.forEach(([t, x, yy]) => {
  const e = document.createElementNS(NS, "text");
  e.setAttribute("transform", `translate(${x},${yy}) rotate(-90)`);
  e.setAttribute("text-anchor", "middle"); e.setAttribute("font-family", "DejaVu Sans");
  e.setAttribute("font-size", "10"); e.setAttribute("fill", "#262626");
  e.textContent = t; ov.appendChild(e);
});
wrap.appendChild(ov);

// x label
const xl = document.createElement("div");
xl.className = "xl"; xl.style.left = "77px"; xl.innerHTML = "Count, <i>m</i>";
wrap.appendChild(xl);

// legend
const LEG_SW = [155, 222, 297, 374, 449, 504, 569, 635];
const LEG_TX = [178, 247, 320, 398, 472, 528, 593, 658];
SERIES.forEach((s, k) => {
  const sv = document.createElementNS(NS, "svg");
  sv.setAttribute("width", 17); sv.setAttribute("height", 6);
  sv.setAttribute("class", "sw"); sv.style.left = LEG_SW[k] + "px";
  const ln = document.createElementNS(NS, "line");
  ln.setAttribute("x1", 0); ln.setAttribute("x2", 17); ln.setAttribute("y1", 3); ln.setAttribute("y2", 3);
  ln.setAttribute("stroke", COLORS[k]); ln.setAttribute("stroke-width", 1.3);
  if (DASHES[k] !== "none") ln.setAttribute("stroke-dasharray", DASHES[k]);
  sv.appendChild(ln); wrap.appendChild(sv);
  const tx = document.createElement("div");
  tx.className = "leg"; tx.style.left = LEG_TX[k] + "px"; tx.textContent = s;
  wrap.appendChild(tx);
});
</script></body></html>
